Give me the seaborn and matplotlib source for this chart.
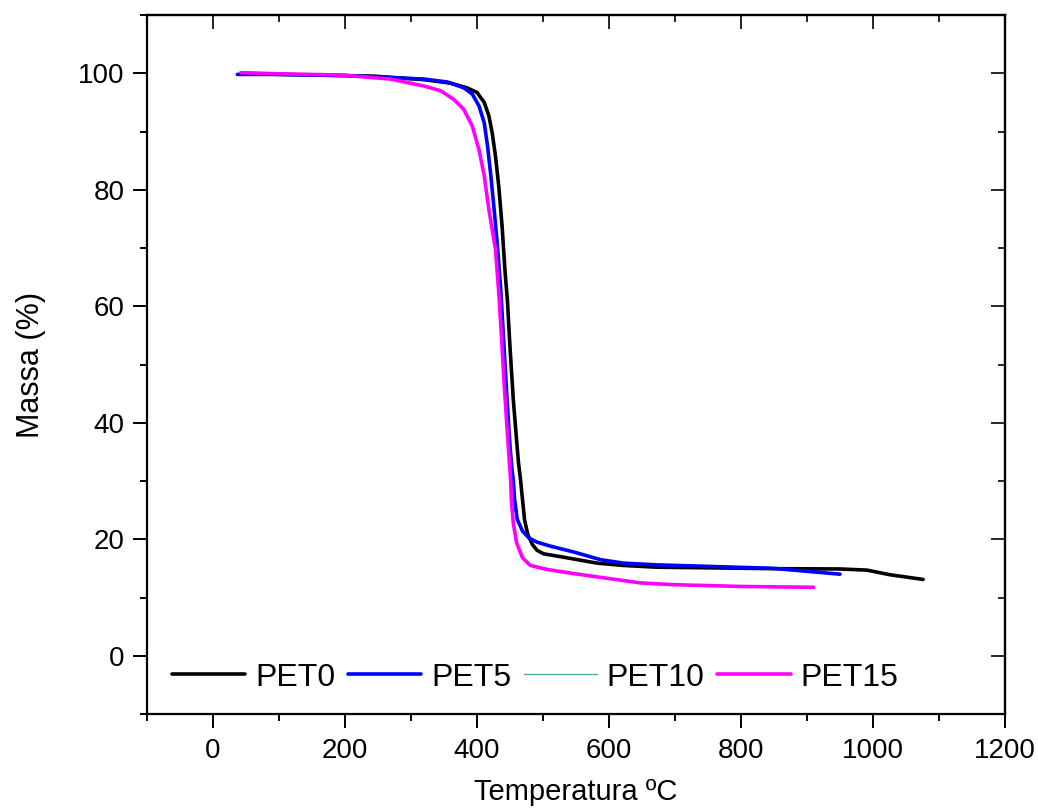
import numpy as np
import pandas as pd
import matplotlib
matplotlib.use("Agg")
import matplotlib.pyplot as plt
import seaborn as sns

# TGA curves: temperature (ºC) and residual mass (%)
pet0_t = [45, 100, 200, 244, 320, 360, 385, 400, 411, 418, 423, 428, 433, 438, 443,
          446, 450, 455, 460, 463, 466, 469, 472, 477, 484, 491, 501, 522, 547, 582,
          622, 673, 749, 850, 950, 991, 1026, 1076]
pet0_m = [100.0, 99.8, 99.6, 99.5, 98.9, 98.3, 97.5, 96.7, 95.0, 92.7, 89.8, 85.8,
          80.6, 73.8, 65.2, 61.2, 53.0, 44.0, 37.0, 33.0, 30.2, 26.8, 23.4, 20.8,
          19.1, 18.1, 17.5, 17.1, 16.6, 15.9, 15.5, 15.2, 15.1, 14.95, 14.9, 14.7,
          13.9, 13.1]

pet5_t = [37, 100, 200, 320, 355, 380, 393, 403, 411, 416, 421, 426, 431, 436, 440,
          445, 450, 453, 455, 457, 461, 469, 479, 491, 512, 547, 587, 622, 673, 749,
          850, 900, 950]
pet5_m = [99.8, 99.8, 99.6, 99.0, 98.5, 97.5, 96.4, 94.4, 91.5, 87.5, 82.4, 76.6,
          70.3, 62.9, 55.0, 45.0, 36.0, 32.0, 30.2, 26.8, 23.4, 21.4, 20.2, 19.5,
          18.8, 17.8, 16.5, 15.9, 15.6, 15.35, 15.0, 14.5, 14.0]

pet10_t = [40, 100, 200, 320, 355, 380, 393, 403, 411, 416, 421, 426, 431, 436, 440,
           445, 450, 453, 455, 457, 461, 469, 479, 491, 512, 547, 587, 622, 673, 749,
           850, 900, 940]
pet10_m = [99.8, 99.7, 99.5, 98.9, 98.4, 97.4, 96.3, 94.3, 91.4, 87.4, 82.3, 76.5,
           70.2, 62.8, 54.9, 44.9, 35.9, 31.9, 30.1, 26.7, 23.3, 21.3, 20.1, 19.4,
           18.7, 17.7, 16.4, 15.8, 15.5, 15.25, 14.9, 14.4, 14.1]

pet15_t = [42, 100, 194, 269, 320, 345, 365, 380, 393, 403, 411, 418, 428, 433, 437,
           441, 445, 448, 451, 452, 455, 460, 469, 481, 507, 547, 597, 648, 698, 799,
           910]
pet15_m = [100.1, 99.9, 99.7, 99.0, 97.8, 97.0, 95.5, 93.8, 90.9, 86.9, 82.4, 76.6,
           69.8, 62.3, 55.0, 47.0, 40.0, 35.0, 30.2, 26.8, 22.8, 19.4, 16.8, 15.5,
           14.8, 14.1, 13.3, 12.5, 12.2, 11.9, 11.75]

series = {"PET0": (pet0_t, pet0_m), "PET5": (pet5_t, pet5_m),
          "PET10": (pet10_t, pet10_m), "PET15": (pet15_t, pet15_m)}
colors = {"PET0": "#000000", "PET5": "#0000ff", "PET10": "#5aa8a8", "PET15": "#ff00ff"}
widths = {"PET0": 2.6, "PET5": 2.6, "PET10": 1.0, "PET15": 2.6}
draw_order = ["PET10", "PET0", "PET5", "PET15"]
legend_order = ["PET0", "PET5", "PET10", "PET15"]

df = pd.concat([pd.DataFrame({"Temperatura": t, "Massa": m, "Amostra": k})
                for k, (t, m) in series.items()], ignore_index=True)

sns.set_style("white")
plt.rcParams["font.family"] = ["Liberation Sans", "DejaVu Sans"]
plt.rcParams["text.color"] = "black"
plt.rcParams["axes.labelcolor"] = "black"
plt.rcParams["lines.solid_joinstyle"] = "round"
plt.rcParams["lines.solid_capstyle"] = "round"

fig = plt.figure(figsize=(10.38, 8.11), dpi=100)
ax = fig.add_axes([0.1416, 0.1196, 0.8266, 0.8619])

handles = {}
for name in draw_order:
    sub = df[df["Amostra"] == name]
    sns.lineplot(data=sub, x="Temperatura", y="Massa", ax=ax, sort=False,
                 estimator=None, color=colors[name], linewidth=widths[name],
                 label=name, legend=False)
    handles[name] = ax.lines[-1]

ax.set_xlim(-100, 1200)
ax.set_ylim(-10, 110)
ax.set_xticks(np.arange(0, 1201, 200))
ax.set_xticks(np.arange(-100, 1201, 100), minor=True)
ax.set_yticks(np.arange(0, 101, 20))
ax.set_yticks(np.arange(-10, 111, 10), minor=True)

for s in ax.spines.values():
    s.set_visible(True)
    s.set_color("black")
    s.set_linewidth(1.6)

ax.tick_params(which="both", direction="out", colors="black", labelcolor="black",
               labelsize=20, bottom=True, left=True, top=False, right=False, width=1.4)
ax.tick_params(which="major", length=10)
ax.tick_params(which="minor", length=5)
ax.tick_params(axis="y", which="major", pad=6)
ax.tick_params(axis="x", which="major", pad=7)

# inward ticks on the opposite sides, without labels
top = ax.secondary_xaxis("top")
top.set_xticks(np.arange(0, 1201, 200))
top.set_xticks(np.arange(-100, 1201, 100), minor=True)
top.tick_params(which="both", direction="in", labeltop=False, width=1.4)
top.tick_params(which="major", length=10)
top.tick_params(which="minor", length=5)
right = ax.secondary_yaxis("right")
right.set_yticks(np.arange(0, 101, 20))
right.set_yticks(np.arange(-10, 111, 10), minor=True)
right.tick_params(which="both", direction="in", labelright=False, width=1.4)
right.tick_params(which="major", length=10)
right.tick_params(which="minor", length=5)
for sec in (top, right):
    for s in sec.spines.values():
        s.set_linewidth(1.6)

ax.set_xlabel("Temperatura ºC", fontsize=21, labelpad=10)
ax.set_ylabel("Massa (%)", fontsize=22, labelpad=23)

ax.legend([handles[n] for n in legend_order], legend_order, loc="center left",
          bbox_to_anchor=(0.029, 0.052), ncol=4, frameon=False, fontsize=23,
          handlelength=2.3, handletextpad=0.3, columnspacing=0.4,
          borderaxespad=0, borderpad=0)

fig.savefig("out.png", dpi=100)
